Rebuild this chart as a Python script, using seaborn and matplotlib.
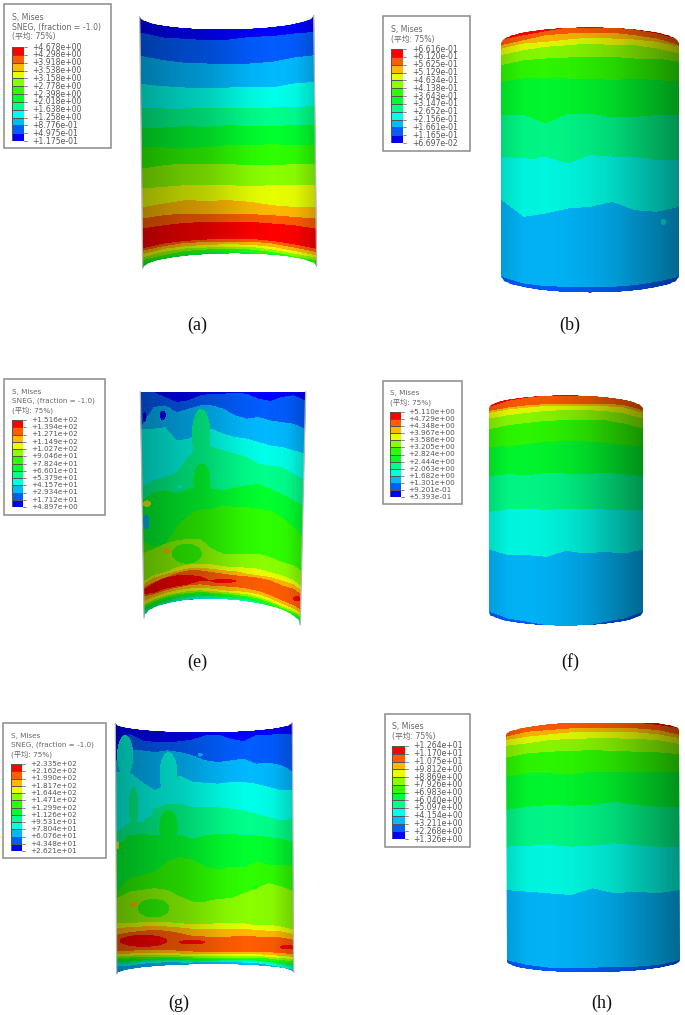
import numpy as np
import matplotlib
matplotlib.use('Agg')
import matplotlib.pyplot as plt
from matplotlib.colors import ListedColormap, LinearSegmentedColormap
from matplotlib.patches import Polygon, Rectangle
import seaborn as sns

W, H = 685, 1015
ZOOM = 3.0
STEP = 1.5   # table units per heatmap cell

# contour colours, lowest band first
band_colors = ['#0000ff', '#005dff', '#00b9ff', '#00ffe8', '#00ff8b', '#00ff2e',
               '#2eff00', '#8bff00', '#e8ff00', '#ffb900', '#ff5d00', '#ff0000']

labels_a = ['+4.678e+00', '+4.298e+00', '+3.918e+00', '+3.538e+00', '+3.158e+00', '+2.778e+00', '+2.398e+00',
            '+2.018e+00', '+1.638e+00', '+1.258e+00', '+8.776e-01', '+4.975e-01', '+1.175e-01']
labels_b = ['+6.616e-01', '+6.120e-01', '+5.625e-01', '+5.129e-01', '+4.634e-01', '+4.138e-01', '+3.643e-01',
            '+3.147e-01', '+2.652e-01', '+2.156e-01', '+1.661e-01', '+1.165e-01', '+6.697e-02']
labels_e = ['+1.516e+02', '+1.394e+02', '+1.271e+02', '+1.149e+02', '+1.027e+02', '+9.046e+01', '+7.824e+01',
            '+6.601e+01', '+5.379e+01', '+4.157e+01', '+2.934e+01', '+1.712e+01', '+4.897e+00']
labels_f = ['+5.110e+00', '+4.729e+00', '+4.348e+00', '+3.967e+00', '+3.586e+00', '+3.205e+00', '+2.824e+00',
            '+2.444e+00', '+2.063e+00', '+1.682e+00', '+1.301e+00', '+9.201e-01', '+5.393e-01']
labels_g = ['+2.335e+02', '+2.162e+02', '+1.990e+02', '+1.817e+02', '+1.644e+02', '+1.471e+02', '+1.299e+02',
            '+1.126e+02', '+9.531e+01', '+7.804e+01', '+6.076e+01', '+4.348e+01', '+2.621e+01']
labels_h = ['+1.264e+01', '+1.170e+01', '+1.075e+01', '+9.812e+00', '+8.869e+00', '+7.926e+00', '+6.983e+00',
            '+6.040e+00', '+5.097e+00', '+4.154e+00', '+3.211e+00', '+2.268e+00', '+1.326e+00']

# band sequence from top to bottom and the height of each boundary, one row per boundary
cols_a = [425, 490, 555, 620, 685, 750, 815, 880, 945]
bands_a = [0, 1, 2, 3, 4, 5, 6, 7, 8, 9, 10, 11, 10, 9, 8, 7, 6, 5]
edges_a = [[98, 112, 116, 120, 118, 110, 108, 100, 95],
           [168, 180, 188, 190, 190, 190, 185, 172, 165],
           [252, 258, 262, 265, 262, 260, 262, 250, 245],
           [322, 325, 325, 322, 322, 322, 322, 320, 318],
           [385, 382, 378, 380, 375, 378, 378, 375, 375],
           [440, 442, 445, 440, 435, 435, 432, 435, 435],
           [505, 495, 490, 490, 492, 495, 495, 492, 490],
           [565, 560, 555, 555, 555, 558, 555, 555, 555],
           [622, 610, 600, 602, 600, 605, 615, 620, 620],
           [655, 645, 640, 640, 640, 642, 645, 650, 655],
           [685, 675, 668, 665, 665, 665, 670, 675, 685],
           [745, 730, 722, 718, 716, 716, 722, 732, 745],
           [752, 738, 728, 726, 724, 724, 730, 742, 755],
           [762, 746, 738, 734, 732, 734, 740, 752, 765],
           [772, 755, 745, 742, 740, 740, 748, 760, 772],
           [780, 765, 752, 748, 747, 748, 755, 768, 780],
           [790, 772, 760, 755, 753, 755, 762, 775, 790]]

cols_b = [469, 536, 602, 669, 735, 802, 868, 935, 1002]
bands_b = [11, 10, 9, 8, 7, 6, 5, 4, 3, 2, 1]
edges_b = [[118, 105, 93, 82, 82, 82, 88, 100, 118],
           [135, 120, 105, 100, 98, 98, 105, 115, 135],
           [145, 130, 125, 118, 112, 115, 118, 125, 140],
           [165, 150, 140, 135, 130, 135, 135, 145, 160],
           [195, 180, 175, 172, 170, 170, 175, 175, 185],
           [245, 235, 232, 235, 235, 240, 235, 240, 245],
           [345, 345, 370, 340, 340, 352, 350, 345, 345],
           [470, 475, 470, 490, 465, 470, 470, 480, 480],
           [600, 650, 640, 625, 620, 605, 630, 635, 620],
           [830, 850, 858, 860, 860, 860, 855, 845, 830]]
islands_b = [(560, 465, 25, 12, 4), (955, 665, 8, 10, 3), (622, 612, 4, 12, 3), (795, 480, 5, 18, 3)]

cols_e = [425, 460, 495, 530, 565, 600, 635, 670, 705, 740, 775, 810, 845, 880, 915]
bands_e = [0, 1, 2, 3, 4, 5, 6, 7, 8, 9, 10, 11, 10, 9, 8, 7, 6, 5, 4, 3, 2, 1]
edges_e = [[155, 155, 170, 185, 180, 165, 160, 160, 158, 160, 175, 182, 170, 165, 180],
           [255, 200, 195, 215, 205, 195, 195, 205, 225, 235, 230, 240, 245, 250, 265],
           [265, 265, 260, 300, 295, 275, 265, 280, 290, 295, 305, 315, 320, 330, 340],
           [440, 420, 410, 395, 345, 320, 320, 330, 340, 350, 370, 375, 380, 400, 420],
           [480, 455, 450, 460, 445, 440, 445, 450, 440, 435, 430, 445, 460, 480, 500],
           [600, 620, 610, 560, 525, 505, 505, 495, 500, 500, 505, 510, 530, 560, 600],
           [640, 625, 610, 600, 595, 595, 625, 640, 640, 640, 640, 650, 665, 675, 700],
           [725, 705, 695, 680, 672, 672, 672, 678, 680, 682, 685, 695, 705, 720, 745],
           [735, 712, 702, 692, 684, 683, 685, 690, 692, 700, 705, 710, 720, 732, 760],
           [745, 725, 712, 698, 690, 690, 695, 700, 705, 708, 712, 720, 735, 745, 770],
           [752, 728, 712, 705, 703, 708, 722, 722, 722, 723, 735, 745, 760, 770, 790],
           [762, 758, 745, 738, 732, 722, 722, 722, 722, 723, 735, 745, 760, 770, 790],
           [770, 762, 750, 742, 735, 732, 736, 738, 740, 745, 752, 765, 780, 795, 815],
           [785, 770, 758, 750, 745, 742, 745, 750, 752, 755, 762, 775, 790, 805, 825],
           [795, 778, 766, 758, 752, 750, 752, 755, 758, 762, 770, 782, 798, 812, 832],
           [800, 783, 771, 762, 758, 755, 757, 760, 763, 768, 775, 787, 802, 817, 838],
           [808, 790, 777, 768, 763, 760, 762, 765, 768, 772, 780, 793, 808, 823, 843],
           [815, 796, 783, 773, 768, 765, 767, 770, 772, 777, 785, 798, 815, 830, 848],
           [822, 802, 790, 780, 773, 770, 772, 774, 776, 782, 790, 805, 822, 835, 852],
           [828, 808, 795, 785, 778, 775, 775, 778, 780, 786, 795, 810, 828, 840, 855],
           [835, 815, 802, 790, 783, 778, 778, 780, 782, 790, 800, 815, 833, 845, 858]]
islands_e = [(603, 285, 28, 80, 4), (605, 420, 26, 50, 5), (560, 640, 45, 30, 6), (500, 632, 11, 8, 9),
             (670, 722, 38, 6, 11), (890, 775, 12, 8, 11), (440, 490, 12, 10, 8),
             (438, 545, 10, 22, 2), (433, 230, 6, 14, 0), (488, 225, 9, 14, 0), (538, 438, 9, 5, 3)]

cols_f = [431, 489, 547, 604, 662, 720, 778, 835, 893]
bands_f = [11, 10, 9, 8, 7, 6, 5, 4, 3, 2, 1]
edges_f = [[200, 182, 172, 166, 166, 166, 166, 175, 190],
           [212, 202, 195, 192, 190, 190, 190, 195, 210],
           [218, 208, 202, 197, 196, 196, 198, 202, 218],
           [235, 225, 218, 212, 210, 210, 212, 220, 235],
           [268, 255, 248, 242, 240, 240, 240, 250, 265],
           [320, 318, 312, 305, 303, 303, 308, 315, 318],
           [408, 402, 405, 398, 400, 402, 398, 402, 408],
           [515, 508, 505, 510, 505, 505, 508, 508, 508],
           [628, 645, 645, 650, 632, 640, 635, 640, 628],
           [815, 835, 845, 855, 858, 858, 845, 835, 815]]

cols_g = [350, 388, 426, 464, 502, 540, 578, 616, 654, 692, 730, 768, 806, 844, 882]
bands_g = [0, 1, 2, 3, 4, 5, 6, 7, 8, 9, 10, 9, 8, 7, 6, 5, 4, 3, 2]
edges_g = [[255, 175, 195, 200, 200, 198, 192, 180, 178, 190, 198, 178, 178, 176, 178],
           [258, 225, 225, 230, 225, 230, 240, 255, 260, 255, 250, 265, 262, 270, 290],
           [290, 290, 320, 345, 325, 300, 320, 322, 325, 320, 320, 325, 335, 345, 345],
           [470, 440, 440, 400, 385, 385, 395, 395, 395, 400, 405, 415, 425, 435, 430],
           [510, 480, 475, 480, 475, 480, 490, 480, 475, 475, 480, 480, 485, 490, 500],
           [650, 610, 600, 590, 560, 545, 555, 575, 585, 575, 578, 560, 570, 570, 570],
           [670, 650, 645, 640, 645, 665, 680, 680, 672, 670, 655, 640, 625, 635, 650],
           [745, 745, 742, 740, 742, 745, 748, 748, 745, 745, 745, 752, 750, 755, 765],
           [760, 757, 755, 752, 755, 758, 762, 763, 762, 762, 762, 765, 768, 770, 778],
           [780, 772, 768, 765, 768, 775, 783, 785, 785, 785, 783, 785, 785, 788, 795],
           [830, 828, 825, 825, 825, 828, 830, 830, 832, 830, 830, 830, 832, 835, 838],
           [838, 836, 833, 833, 833, 836, 838, 838, 838, 838, 838, 838, 840, 843, 846],
           [845, 843, 840, 840, 840, 842, 843, 843, 843, 843, 843, 843, 846, 850, 853],
           [850, 848, 846, 845, 845, 847, 848, 848, 848, 848, 848, 848, 851, 856, 860],
           [856, 854, 852, 851, 850, 852, 853, 853, 853, 852, 852, 853, 857, 862, 867],
           [862, 860, 857, 856, 855, 856, 857, 857, 857, 856, 856, 857, 861, 867, 873],
           [868, 866, 862, 860, 859, 860, 860, 860, 860, 860, 860, 861, 865, 872, 879],
           [875, 872, 867, 864, 862, 863, 863, 862, 862, 862, 863, 865, 870, 878, 885]]
islands_g = [(375, 240, 24, 62, 3), (505, 295, 27, 65, 3), (400, 395, 14, 62, 4), (440, 405, 18, 22, 3),
             (505, 455, 28, 50, 5), (460, 700, 48, 28, 6), (400, 688, 11, 8, 9), (352, 510, 5, 14, 8),
             (600, 238, 8, 6, 2), (765, 638, 6, 5, 5), (430, 798, 72, 18, 11), (575, 802, 40, 7, 11), (860, 817, 22, 7, 11)]

cols_h = [483, 548, 613, 678, 743, 808, 873, 938, 1007]
bands_h = [11, 10, 9, 8, 7, 6, 5, 4, 3, 2, 1]
edges_h = [[165, 155, 146, 142, 140, 140, 142, 150, 160],
           [185, 170, 165, 160, 158, 158, 160, 165, 180],
           [195, 185, 178, 172, 170, 170, 172, 178, 190],
           [212, 205, 195, 192, 190, 190, 192, 195, 208],
           [248, 235, 230, 228, 225, 228, 230, 232, 238],
           [305, 295, 295, 298, 290, 292, 292, 292, 290],
           [405, 395, 390, 392, 390, 380, 390, 395, 395],
           [515, 512, 510, 515, 512, 505, 510, 515, 515],
           [645, 650, 655, 660, 640, 655, 650, 655, 645],
           [855, 870, 878, 880, 878, 876, 875, 870, 855]]

# how much darker the surface looks going left to right
shade_open = [0.36, 0.3, 0.24, 0.2, 0.12, 0.04, 0.0, 0.03, 0.2]
shade_closed = [0.16, 0.05, 0.04, 0.06, 0.1, 0.16, 0.25, 0.34, 0.44]

sns.set_theme(style='white')
plt.rcParams['font.family'] = ['DejaVu Sans', 'Noto Sans CJK SC']

band_cmap = ListedColormap(band_colors)
shade_cmap = LinearSegmentedColormap.from_list('shade', [(0, 0, 0, 0), (0, 0, 0, 1)])

fig = plt.figure(figsize=(W / 100, H / 100), dpi=100)
page = fig.add_axes([0, 0, 1, 1])
page.set_xlim(0, W)
page.set_ylim(H, 0)
page.axis('off')


def draw_shell(origin, corners, sags, cols, edges, bands, shade, islands=(), open_shell=True):
    (tl, tr, bl, br) = corners
    left = min(tl[0], bl[0]) - 3
    right = max(tr[0], br[0]) + 3
    top = min(tl[1], tr[1], tl[1] + sags[0]) - 3
    bottom = max(bl[1], br[1], bl[1] + sags[1]) + 3

    xs = np.arange(left, right, STEP)
    ys = np.arange(top, bottom, STEP)
    grid_x, grid_y = np.meshgrid(xs, ys)

    curves = np.array([np.interp(xs, cols, row) for row in edges])
    count = (grid_y[None, :, :] > curves[:, None, :]).sum(axis=0)
    field = np.array(bands)[count].astype(float)
    for cx, cy, rx, ry, band in islands:
        field[((grid_x - cx) / rx) ** 2 + ((grid_y - cy) / ry) ** 2 < 1] = band

    x0 = origin[0] + left / ZOOM
    y0 = origin[1] + top / ZOOM
    width = (right - left) / ZOOM
    height = (bottom - top) / ZOOM
    ax = fig.add_axes([x0 / W, 1 - (y0 + height) / H, width / W, height / H])
    sns.heatmap(field, cmap=band_cmap, vmin=-0.5, vmax=11.5, cbar=False, ax=ax,
                xticklabels=False, yticklabels=False)
    dark = np.interp(xs, np.linspace(left, right, len(shade)), shade)
    sns.heatmap(np.tile(dark, (len(ys), 1)), cmap=shade_cmap, vmin=0, vmax=1, cbar=False, ax=ax,
                xticklabels=False, yticklabels=False)

    # outline of the visible surface, in heatmap cells
    t = np.linspace(0, 1, 120)
    bulge = np.sqrt(1 - (2 * t - 1) ** 2)
    top_x = tl[0] + (tr[0] - tl[0]) * t
    top_y = tl[1] + (tr[1] - tl[1]) * t + sags[0] * bulge
    bot_x = bl[0] + (br[0] - bl[0]) * t
    bot_y = bl[1] + (br[1] - bl[1]) * t + sags[1] * bulge
    outline = np.vstack([np.c_[top_x, top_y], np.c_[bot_x, bot_y][::-1]])
    outline = (outline - [left, top]) / STEP
    clip = Polygon(outline, closed=True, transform=ax.transData)
    for mesh in ax.collections:
        mesh.set_clip_path(clip)

    if open_shell:
        n = len(t)
        ax.plot(outline[[n * 2 - 1, 0], 0], outline[[n * 2 - 1, 0], 1], color='#b4b4b4', lw=0.9, scalex=False, scaley=False)
        ax.plot(outline[[n - 1, n], 0], outline[[n - 1, n], 1], color='#b4b4b4', lw=0.9, scalex=False, scaley=False)
    ax.axis('off')


def draw_legend(box, bar, labels, titles, label_x, size):
    page.add_patch(Rectangle((box[0], box[1]), box[2] - box[0], box[3] - box[1], fc='white', ec='#8a8a8a', lw=1.1))
    for (y, title) in titles:
        page.text(bar[0], y, title, fontsize=size, color='#666666', va='center', ha='left')
    ticks = np.linspace(bar[2], bar[3], len(labels))
    for y, label in zip(ticks, labels):
        page.plot([bar[1], bar[1] + 3], [y, y], color='#555555', lw=0.5)
        page.text(label_x, y, label, fontsize=size, color='#555555', va='center', ha='left')
    ax = fig.add_axes([bar[0] / W, 1 - bar[3] / H, (bar[1] - bar[0]) / W, (bar[3] - bar[2]) / H])
    sns.heatmap(np.arange(11, -1, -1).reshape(-1, 1), cmap=band_cmap, vmin=-0.5, vmax=11.5, cbar=False, ax=ax,
                linewidths=0.4, linecolor='#555555', xticklabels=False, yticklabels=False)
    ax.axis('off')


TITLE = 'S, Mises'
SNEG = 'SNEG, (fraction = -1.0)'
AVG = '(平均: 75%)'

draw_shell((0, 0), ((419, 50), (941, 46), (428, 805), (950, 800)), (40, -42), cols_a, edges_a, bands_a, shade_open)
draw_legend((4, 4, 111, 148), (12, 24, 47, 141), labels_a, [(17, TITLE), (27, SNEG), (36, AVG)], 32, 5.6)

draw_shell((345, 0), ((469, 128), (1002, 128), (469, 830), (1002, 830)), (-46, 48), cols_b, edges_b, bands_b,
           shade_closed, islands_b, open_shell=False)
draw_legend((383, 16, 470, 151), (391, 403, 49, 143), labels_b, [(29, TITLE), (39, AVG)], 412, 5.6)

draw_shell((0, 340), ((421, 155), (918, 155), (432, 835), (902, 855)), (0, -67), cols_e, edges_e, bands_e,
           shade_open, islands_e)
draw_legend((4, 379, 105, 515), (12, 23, 420, 507), labels_e, [(392, TITLE), (401, SNEG), (410, AVG)], 31, 5.2)

draw_shell((345, 340), ((431, 205), (893, 205), (431, 817), (893, 817)), (-39, 41), cols_f, edges_f, bands_f,
           shade_closed, open_shell=False)
draw_legend((383, 381, 462, 504), (390, 401, 412, 497), labels_f, [(393, TITLE), (402, AVG)], 408, 5.2)

draw_shell((0, 675), ((346, 145), (878, 143), (350, 898), (882, 893)), (28, -27), cols_g, edges_g, bands_g,
           shade_open, islands_g)
draw_legend((3, 723, 106, 858), (11, 22, 764, 851), labels_g, [(736, TITLE), (745, SNEG), (754, AVG)], 30, 5.2)

draw_shell((345, 675), ((483, 180), (1003, 165), (487, 860), (1007, 855)), (-33, 35), cols_h, edges_h, bands_h,
           shade_closed, open_shell=False)
draw_legend((385, 714, 470, 847), (392, 405, 746, 839), labels_h, [(727, TITLE), (736, AVG)], 413, 5.6)

captions = ['(a)', '(b)', '(e)', '(f)', '(g)', '(h)']
caption_x = [197, 570, 197, 570, 179, 602]
caption_y = [325, 325, 662, 662, 1003, 1003]
for label, x, y in zip(captions, caption_x, caption_y):
    page.text(x, y, label, fontsize=13, family='Liberation Serif', color='#111111', ha='center', va='center')

fig.savefig('out.png', dpi=100)
